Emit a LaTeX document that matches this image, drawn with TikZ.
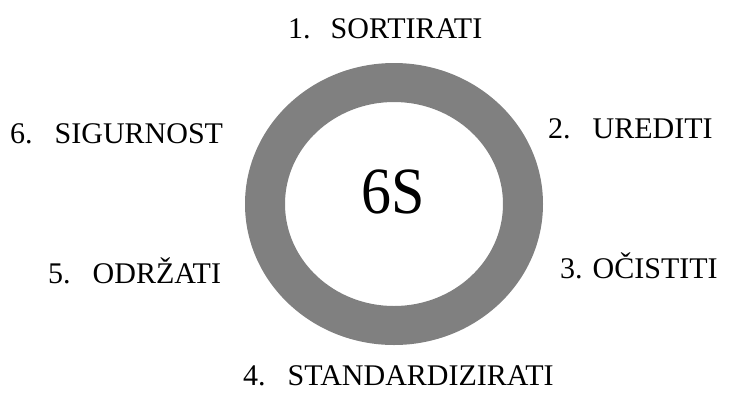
\documentclass[tikz,border=0pt]{standalone}
\usepackage{fontspec}
\setmainfont{Liberation Serif}
\begin{document}
\begin{tikzpicture}[x=1pt,y=-1pt,
  ringfill/.style={fill=ringgray,even odd rule},
  steplabel/.style={anchor=base west,inner sep=0pt,text depth=0pt,font=\fontsize{30}{36}\selectfont},
  centerlabel/.style={anchor=base,inner sep=0pt,text depth=0pt,font=\fontsize{60}{68}\selectfont}]
\definecolor{ringgray}{HTML}{808080}
\useasboundingbox (0,0) rectangle (729,392);
% the ring
\path[ringfill] (394,204) ellipse [x radius=149, y radius=141]
                (394,204) ellipse [x radius=109, y radius=102];
\node[centerlabel] (c) at (393,213) {\scalebox{1}[1.1]{6S}};
% the six steps around it
\node[steplabel] (l1) at (288,38)  {1.\hspace{20pt}SORTIRATI};
\node[steplabel] (l2) at (548,138) {2.\hspace{22pt}UREDITI};
\node[steplabel] (l3) at (560,278) {3.\hspace{10pt}OČISTITI};
\node[steplabel] (l4) at (243,385) {4.\hspace{22pt}STANDARDIZIRATI};
\node[steplabel] (l5) at (48,283)  {5.\hspace{22pt}ODRŽATI};
\node[steplabel] (l6) at (10,143)  {6.\hspace{22pt}SIGURNOST};
\end{tikzpicture}
\end{document}
